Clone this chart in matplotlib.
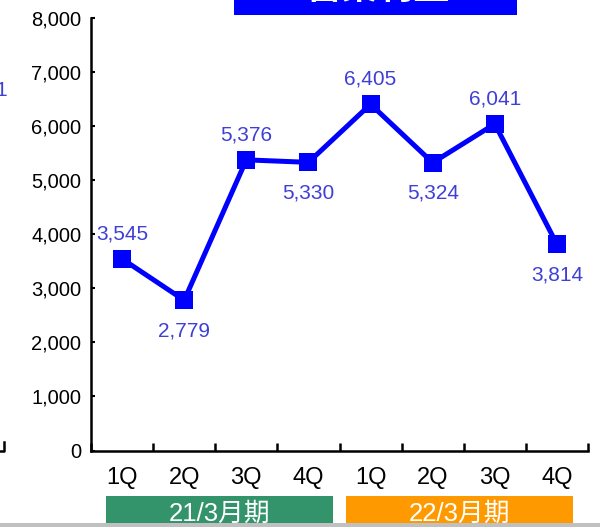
import matplotlib
matplotlib.use("Agg")
import matplotlib.pyplot as plt
from matplotlib.lines import Line2D
from matplotlib.patches import Rectangle

# ---- data ----
quarters = ["1Q", "2Q", "3Q", "4Q", "1Q", "2Q", "3Q", "4Q"]
values = [3545, 2779, 5376, 5330, 6405, 5324, 6041, 3814]
label_above = [True, False, True, False, True, False, True, False]
yticks = [0, 1000, 2000, 3000, 4000, 5000, 6000, 7000, 8000]
periods = ["21/3月期", "22/3月期"]
period_colors = ["#33946B", "#FF9900"]
title_text = "営業利益"

plt.rcParams['font.family'] = ['Liberation Sans', 'Noto Sans CJK JP', 'DejaVu Sans']

W, H = 600, 527
fig = plt.figure(figsize=(W / 100, H / 100), dpi=100)

def fx(px):
    return px / W

def fy(py):
    return 1 - py / H

ax = fig.add_axes([fx(91), fy(450.5), fx(588) - fx(91), fy(18) - fy(450.5)])
x = list(range(len(values)))
ax.plot(x, values, color="#0000FF", lw=3.6, marker="s", markersize=13,
        markeredgewidth=0, solid_joinstyle="miter", clip_on=False, zorder=3)

for xi, v, up in zip(x, values, label_above):
    ax.annotate(f"{v:,}", (xi, v), xytext=(0, 18 if up else -22),
                textcoords="offset points", ha="center", va="center",
                fontsize=15, color="#3F3FD6")

ax.set_xlim(-0.5, len(values) - 0.5)
ax.set_ylim(0, 8000)
ax.set_yticks(yticks)
ax.set_yticklabels([f"{t:,}" for t in yticks])
ax.set_xticks(x)
ax.set_xticklabels(quarters)
ax.set_xticks([i - 0.5 for i in range(len(values) + 1)], minor=True)
ax.tick_params(axis="x", which="major", length=0, pad=12, labelsize=17)
ax.tick_params(axis="x", which="minor", direction="in", length=6, width=1.8, color="black")
ax.tick_params(axis="y", direction="in", length=3, width=1.5, pad=7, labelsize=14.5)
for s in ["top", "right"]:
    ax.spines[s].set_visible(False)
for s in ["left", "bottom"]:
    ax.spines[s].set_linewidth(1.8)
ax.patch.set_visible(False)

# period boxes
boxes = [(106, 333), (346, 573)]
for (x0, x1), name, col in zip(boxes, periods, period_colors):
    fig.add_artist(Rectangle((fx(x0), fy(523)), fx(x1) - fx(x0), fy(496) - fy(523),
                             transform=fig.transFigure, facecolor=col, edgecolor="none"))
    fig.text(fx((x0 + x1) / 2), fy(514), name, ha="center", va="center",
             color="white", fontsize=18.5)

# grey baseline at bottom
fig.add_artist(Rectangle((0, 0), 1, fy(523), transform=fig.transFigure,
                         facecolor="#C0C0C0", edgecolor="none", zorder=5))

# title box (cut off at top)
fig.add_artist(Rectangle((fx(234), fy(15)), fx(517) - fx(234), 1 - fy(15),
                         transform=fig.transFigure, facecolor="#0000FF", edgecolor="none"))
fig.text(fx(377), fy(-1), title_text, ha="center", va="baseline", color="white",
         fontsize=26, fontweight="bold", family=['Noto Sans CJK JP', 'DejaVu Sans'])

# fragments of the neighbouring chart at the left edge
fig.text(fx(7), fy(90), "1", ha="right", va="center", fontsize=15, color="#3F3FD6")
fig.add_artist(Line2D([0, fx(4), fx(4)], [fy(450.5), fy(450.5), fy(442)],
                      transform=fig.transFigure, color="black", lw=1.8))

fig.savefig("out.png", dpi=100)
